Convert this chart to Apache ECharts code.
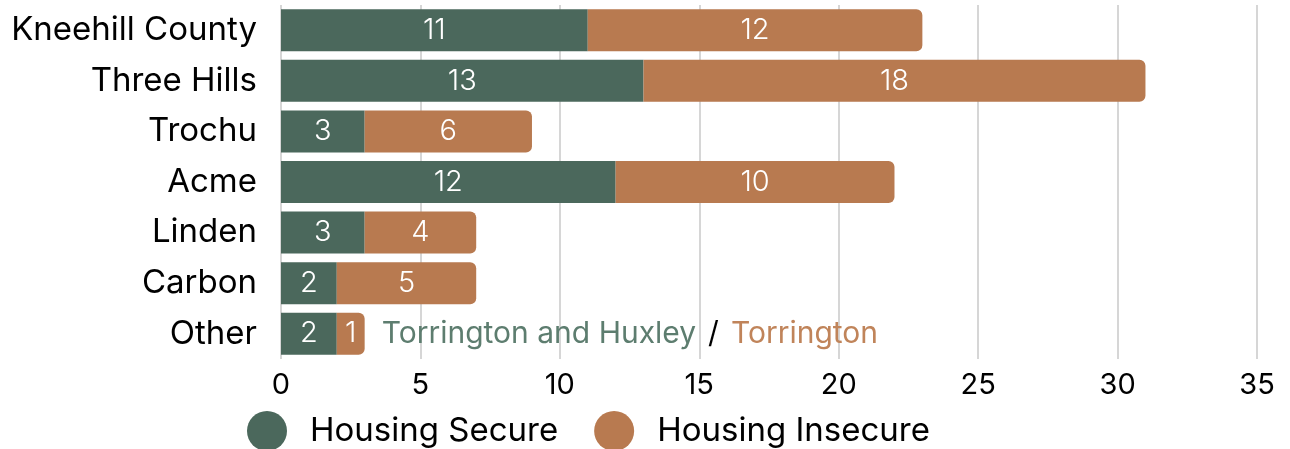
<!DOCTYPE html>
<html><head><meta charset="utf-8">
<script src="https://cdn.jsdelivr.net/npm/echarts@6/dist/echarts.min.js"></script>
<style>html,body{margin:0;padding:0;background:#fff}#c{width:1290px;height:449px}</style>
</head><body><div id="c"></div>
<script>
const categories = ['Kneehill County','Three Hills','Trochu','Acme','Linden','Carbon','Other'];
const secure = [11,13,3,12,3,2,2];
const insecure = [12,18,6,10,4,5,1];
const annotation = [null,null,null,null,null,null,0];
const xTicks = [0,5,10,15,20,25,30,35];

const GREEN = '#4b685c', ORANGE = '#b87a50';
const FONT = 'Inter';
const chart = echarts.init(document.getElementById('c'), null, {renderer:'canvas'});
chart.setOption({
  animation:false,
  textStyle:{fontFamily:FONT},
  grid:{left:281,right:33,top:5,bottom:90,containLabel:false},
  legend:{
    left:242, top:406, icon:'circle', itemWidth:40, itemHeight:40, itemGap:36,
    data:['Housing Secure','Housing Insecure'],
    textStyle:{fontSize:33, color:'#000', fontFamily:FONT, padding:[0,0,0,18]}
  },
  xAxis:{type:'value', min:0, max:35, interval:5,
    axisLine:{show:false}, axisTick:{show:false},
    splitLine:{lineStyle:{color:'#c8c8c8', width:1.5}},
    axisLabel:{fontSize:29, color:'#000', margin:12, fontFamily:FONT}
  },
  yAxis:{type:'category', inverse:true, data:categories,
    axisLine:{show:false}, axisTick:{show:false},
    axisLabel:{fontSize:33, color:'#000', margin:24, fontFamily:FONT}
  },
  series:[
    {name:'Housing Secure', type:'bar', stack:'a', barWidth:42, data:secure,
      itemStyle:{color:GREEN},
      label:{show:true, position:'inside', color:'#fff', fontSize:29, fontWeight:300, fontFamily:FONT}},
    {name:'Housing Insecure', type:'bar', stack:'a', barWidth:42, data:insecure,
      itemStyle:{color:ORANGE, borderRadius:[0,6,6,0]},
      label:{show:true, position:'inside', color:'#fff', fontSize:29, fontWeight:300, fontFamily:FONT}},
    {name:'note', type:'bar', stack:'a', barWidth:42, data:annotation, silent:true,
      itemStyle:{color:'transparent'},
      label:{show:true, position:'right', distance:17,
        formatter:'{a|Torrington and Huxley}{s|/}{b|Torrington}',
        rich:{a:{color:'#5d7d6f', fontSize:30, fontFamily:FONT},
              s:{color:'#000', fontSize:30, fontFamily:FONT, padding:[0,12,0,12]},
              b:{color:'#c0845a', fontSize:30, fontFamily:FONT}}}}
  ]
});
</script></body></html>
